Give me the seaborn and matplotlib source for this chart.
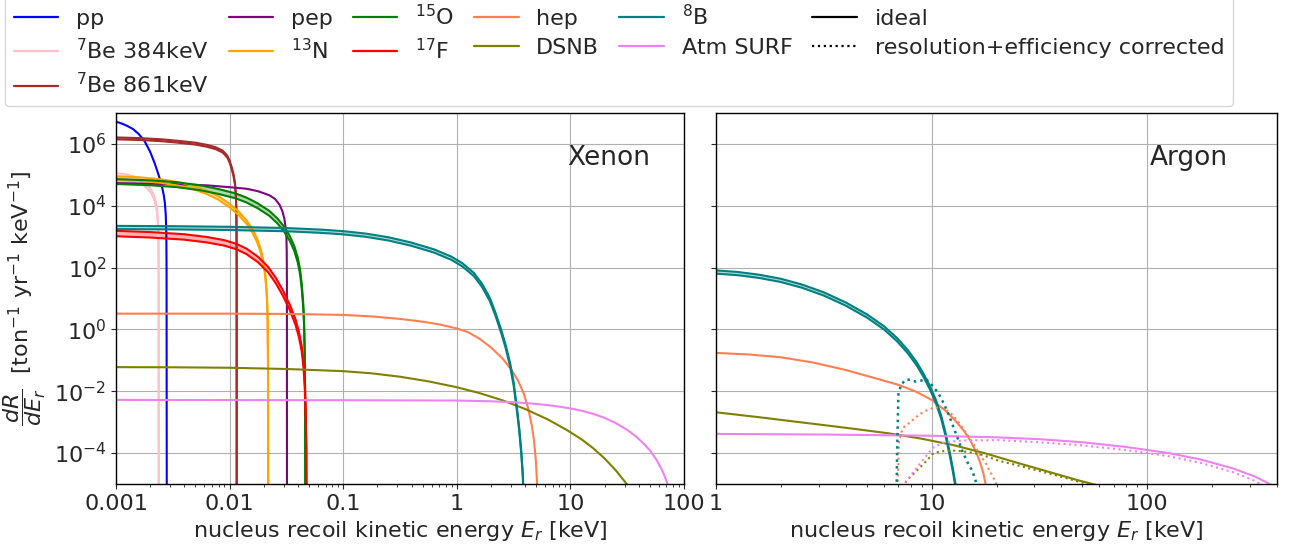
import numpy as np
import matplotlib
matplotlib.use("Agg")
import matplotlib.pyplot as plt
from matplotlib.lines import Line2D
from matplotlib.ticker import FixedLocator, FuncFormatter
import seaborn as sns

# All values are read off the log-log chart and stored as log10 values:
# logE = log10(recoil energy / keV), logR = log10(rate / ton^-1 yr^-1 keV^-1)

# ---------------- Xenon ----------------
xe_pp_logE = [-3.0, -2.95, -2.9, -2.85, -2.8, -2.75, -2.7, -2.66, -2.63, -2.6, -2.58, -2.57, -2.562, -2.557, -2.555, -2.553]
xe_pp_logR = [6.72, 6.66, 6.58, 6.48, 6.32, 6.10, 5.75, 5.38, 5.05, 4.70, 4.35, 4.10, 3.70, 3.10, 2.0, -6]

xe_be384_logE = [-3.0, -2.95, -2.9, -2.85, -2.8, -2.76, -2.72, -2.69, -2.665, -2.648, -2.637, -2.630, -2.626, -2.6245, -2.624]
xe_be384_logR = [5.0, 4.98, 4.95, 4.90, 4.82, 4.73, 4.61, 4.46, 4.28, 4.05, 3.8, 3.4, 2.8, 1.5, -6]

xe_be861_logE = [-3.0, -2.8, -2.6, -2.45, -2.3, -2.2, -2.12, -2.06, -2.02, -2.0, -1.98, -1.965, -1.953, -1.945, -1.941, -1.939, -1.9378, -1.9375]
xe_be861_logR = [6.18, 6.16, 6.12, 6.07, 6.01, 5.94, 5.86, 5.75, 5.59, 5.43, 5.20, 4.98, 4.72, 4.35, 3.9, 3.2, 2.0, -6]

xe_pep_logE = [-3.0, -2.5, -2.2, -2.0, -1.85, -1.75, -1.65, -1.6, -1.56, -1.535, -1.518, -1.507, -1.5, -1.497, -1.4955, -1.495]
xe_pep_logR = [4.73, 4.70, 4.66, 4.60, 4.55, 4.47, 4.34, 4.22, 4.03, 3.82, 3.58, 3.30, 3.0, 2.5, 1.5, -6]

xe_n13_logE = [-3.0, -2.8, -2.6, -2.45, -2.3, -2.2, -2.1, -2.0, -1.92, -1.85, -1.8, -1.76, -1.73, -1.71, -1.69, -1.678, -1.67, -1.665, -1.662, -1.66]
xe_n13_logR = [4.90, 4.87, 4.80, 4.71, 4.57, 4.44, 4.26, 4.01, 3.76, 3.47, 3.20, 2.90, 2.60, 2.30, 1.88, 1.45, 0.95, 0.3, -1.0, -6]

xe_o15_logE = [-3.0, -2.7, -2.47, -2.26, -2.1, -1.95, -1.85, -1.75, -1.65, -1.58, -1.52, -1.47, -1.43, -1.40, -1.38, -1.365, -1.353, -1.345, -1.339, -1.335, -1.333]
xe_o15_logR = [4.79, 4.75, 4.69, 4.59, 4.47, 4.33, 4.19, 4.00, 3.76, 3.52, 3.25, 2.95, 2.62, 2.25, 1.88, 1.40, 0.85, 0.25, -0.7, -2.2, -6]

xe_f17_logE = [-3.0, -2.7, -2.4, -2.2, -2.05, -1.94, -1.85, -1.75, -1.66, -1.59, -1.53, -1.47, -1.42, -1.39, -1.365, -1.35, -1.338, -1.33, -1.325, -1.322]
xe_f17_logR = [3.11, 3.07, 3.00, 2.91, 2.81, 2.69, 2.53, 2.27, 1.94, 1.57, 1.18, 0.72, 0.25, -0.15, -0.62, -1.1, -1.8, -2.7, -3.8, -6]

xe_b8_logE = [-3.0, -2.5, -2.0, -1.5, -1.2, -1.0, -0.8, -0.6, -0.4, -0.2, -0.05, 0.05, 0.15, 0.22, 0.29, 0.34, 0.39, 0.43, 0.47, 0.50, 0.53, 0.55, 0.567, 0.58, 0.59, 0.596]
xe_b8_logR = [3.30, 3.29, 3.27, 3.23, 3.18, 3.13, 3.05, 2.93, 2.76, 2.54, 2.31, 2.09, 1.78, 1.44, 0.98, 0.50, -0.05, -0.55, -1.15, -1.75, -2.6, -3.25, -3.95, -4.65, -5.5, -7]

xe_hep_logE = [-3.0, -2.0, -1.5, -1.0, -0.75, -0.5, -0.3, -0.15, 0.0, 0.1, 0.2, 0.3, 0.4, 0.48, 0.54, 0.59, 0.63, 0.66, 0.68, 0.695, 0.705, 0.711, 0.716]
xe_hep_logR = [0.51, 0.51, 0.50, 0.47, 0.42, 0.34, 0.25, 0.16, 0.03, -0.09, -0.30, -0.58, -0.93, -1.30, -1.66, -2.08, -2.58, -3.10, -3.60, -4.2, -4.85, -5.5, -8]

xe_dsnb_logE = [-3.0, -2.5, -2.0, -1.5, -1.0, -0.75, -0.5, -0.25, 0.0, 0.2, 0.4, 0.6, 0.8, 0.967, 1.1, 1.2, 1.3, 1.4, 1.5, 1.56]
xe_dsnb_logR = [-1.22, -1.225, -1.24, -1.28, -1.35, -1.42, -1.53, -1.68, -1.87, -2.06, -2.29, -2.57, -2.91, -3.25, -3.56, -3.84, -4.17, -4.56, -5.02, -5.35]

xe_atm_logE = [-3.0, -1.0, 0.0, 0.3, 0.5, 0.7, 0.85, 1.0, 1.1, 1.2, 1.3, 1.4, 1.5, 1.58, 1.65, 1.71, 1.76, 1.8, 1.83, 1.855, 1.875]
xe_atm_logR = [-2.28, -2.29, -2.30, -2.325, -2.355, -2.41, -2.47, -2.555, -2.63, -2.73, -2.86, -3.03, -3.25, -3.47, -3.71, -3.96, -4.23, -4.5, -4.75, -5.0, -5.3]

# ---------------- Argon ----------------
ar_b8_logE = [0.0, 0.1, 0.2, 0.3, 0.4, 0.5, 0.6, 0.7, 0.78, 0.84, 0.89, 0.93, 0.96, 0.99, 1.02, 1.045, 1.065, 1.085, 1.1, 1.112, 1.12]
ar_b8_logR = [1.86, 1.81, 1.72, 1.59, 1.40, 1.15, 0.83, 0.44, 0.05, -0.33, -0.72, -1.10, -1.45, -1.85, -2.33, -2.85, -3.4, -4.05, -4.6, -5.1, -5.6]
ar_b8c_logE = [0.836, 0.84, 0.846, 0.859, 0.882, 0.9, 0.928, 0.95, 0.974, 1.005, 1.03, 1.051, 1.075, 1.097, 1.12, 1.143, 1.165, 1.19, 1.22]
ar_b8c_logR = [-6, -4, -2.1, -1.78, -1.62, -1.63, -1.69, -1.66, -1.60, -1.83, -2.05, -2.32, -2.68, -3.08, -3.5, -3.94, -4.28, -4.59, -5.24]

ar_hep_logE = [0.0, 0.15, 0.3, 0.45, 0.6, 0.75, 0.85, 0.93, 1.0, 1.06, 1.11, 1.15, 1.18, 1.205, 1.225, 1.24, 1.252, 1.26]
ar_hep_logR = [-0.76, -0.81, -0.90, -1.07, -1.31, -1.60, -1.80, -2.02, -2.28, -2.60, -2.95, -3.28, -3.60, -3.94, -4.3, -4.65, -5.05, -5.5]
ar_hepc_logE = [0.838, 0.849, 0.866, 0.897, 0.943, 0.97, 1.005, 1.035, 1.067, 1.1, 1.128, 1.16, 1.19, 1.22, 1.251, 1.298, 1.32]
ar_hepc_logR = [-6, -3.6, -3.19, -3.02, -2.75, -2.64, -2.54, -2.52, -2.6, -2.78, -3.03, -3.35, -3.67, -4.0, -4.33, -4.95, -5.5]

ar_dsnb_logE = [0.0, 0.2, 0.4, 0.6, 0.8, 0.95, 1.1, 1.25, 1.4, 1.55, 1.68, 1.78, 1.83]
ar_dsnb_logR = [-2.68, -2.84, -3.01, -3.18, -3.36, -3.53, -3.74, -4.01, -4.32, -4.62, -4.88, -5.06, -5.2]
ar_dsnbc_logE = [0.845, 0.86, 0.882, 0.928, 0.974, 1.005, 1.035, 1.067, 1.1, 1.143, 1.19, 1.236, 1.313, 1.4, 1.55, 1.68, 1.78, 1.82]
ar_dsnbc_logR = [-6, -5.3, -4.91, -4.59, -4.27, -4.03, -3.95, -3.93, -3.92, -3.94, -3.99, -4.06, -4.25, -4.40, -4.67, -4.92, -5.1, -5.22]

ar_atm_logE = [0.0, 0.5, 1.0, 1.3, 1.5, 1.7, 1.9, 2.1, 2.25, 2.4, 2.5, 2.56, 2.61]
ar_atm_logR = [-3.38, -3.40, -3.44, -3.49, -3.55, -3.65, -3.80, -4.00, -4.21, -4.50, -4.76, -4.97, -5.2]
ar_atmc_logE = [0.84, 0.86, 0.882, 0.943, 1.005, 1.051, 1.1, 1.159, 1.313, 1.5, 1.7, 1.9, 2.1, 2.25, 2.4, 2.5, 2.58]
ar_atmc_logR = [-6, -5.4, -4.91, -4.37, -3.83, -3.67, -3.62, -3.59, -3.58, -3.65, -3.75, -3.90, -4.10, -4.32, -4.62, -4.90, -5.2]

# fractional flux uncertainty (band half-width)
band_unc = {"be384": 0.14, "be861": 0.07, "n13": 0.13, "o15": 0.18, "f17": 0.20, "b8": 0.12}

labels = ["pp", r"$^{7}$Be 384keV", r"$^{7}$Be 861keV", "pep", r"$^{13}$N", r"$^{15}$O", r"$^{17}$F",
          "hep", "DSNB", r"$^{8}$B", "Atm SURF"]
colors = ["blue", "pink", "brown", "purple", "orange", "green", "red",
          "coral", "olive", "teal", "violet"]

sns.set_style("ticks")
plt.rcParams["font.family"] = ["DejaVu Sans"]
plt.rcParams["mathtext.fontset"] = "dejavusans"

fig = plt.figure(figsize=(12.92, 5.5), dpi=100)
W, H = 1292, 550
axL = fig.add_axes([116 / W, 1 - 484 / H, 568 / W, 371 / H])
axR = fig.add_axes([716 / W, 1 - 484 / H, 561 / W, 371 / H], sharey=axL)

for ax in (axL, axR):
    ax.set_xscale("log")
    ax.set_yscale("log")


def draw(ax, logx, logy, color, unc=None, ls="-", lw=1.5):
    x = 10.0 ** np.asarray(logx, float)
    y = 10.0 ** np.asarray(logy, float)
    if unc is None:
        sns.lineplot(x=x, y=y, ax=ax, color=color, lw=lw, linestyle=ls,
                     estimator=None, sort=False, legend=False)
    else:
        lo, hi = y * (1 - unc), y * (1 + unc)
        ax.fill_between(x, lo, hi, color=color, alpha=0.3, lw=0)
        for yy in (hi, lo):
            sns.lineplot(x=x, y=yy, ax=ax, color=color, lw=lw, linestyle=ls,
                         estimator=None, sort=False, legend=False)


# Xenon
draw(axL, xe_pp_logE, xe_pp_logR, "blue")
draw(axL, xe_be384_logE, xe_be384_logR, "pink", band_unc["be384"])
draw(axL, xe_be861_logE, xe_be861_logR, "brown", band_unc["be861"])
draw(axL, xe_pep_logE, xe_pep_logR, "purple")
draw(axL, xe_n13_logE, xe_n13_logR, "orange", band_unc["n13"])
draw(axL, xe_o15_logE, xe_o15_logR, "green", band_unc["o15"])
draw(axL, xe_f17_logE, xe_f17_logR, "red", band_unc["f17"])
draw(axL, xe_hep_logE, xe_hep_logR, "coral")
draw(axL, xe_dsnb_logE, xe_dsnb_logR, "olive")
draw(axL, xe_b8_logE, xe_b8_logR, "teal", band_unc["b8"])
draw(axL, xe_atm_logE, xe_atm_logR, "violet")

# Argon
draw(axR, ar_hep_logE, ar_hep_logR, "coral")
draw(axR, ar_dsnb_logE, ar_dsnb_logR, "olive")
draw(axR, ar_b8_logE, ar_b8_logR, "teal", band_unc["b8"])
draw(axR, ar_atm_logE, ar_atm_logR, "violet")
draw(axR, ar_hepc_logE, ar_hepc_logR, "coral", ls=":")
draw(axR, ar_dsnbc_logE, ar_dsnbc_logR, "olive", ls=":")
draw(axR, ar_atmc_logE, ar_atmc_logR, "violet", ls=":")
draw(axR, ar_b8c_logE, ar_b8c_logR, "teal", ls=":", lw=1.8)

fmt = FuncFormatter(lambda v, p: f"{v:g}")
axL.set_xlim(1e-3, 100)
axL.xaxis.set_major_locator(FixedLocator([1e-3, 1e-2, 1e-1, 1, 10, 100]))
axL.xaxis.set_major_formatter(fmt)
axR.set_xlim(1, 400)
axR.xaxis.set_major_locator(FixedLocator([1, 10, 100]))
axR.xaxis.set_major_formatter(fmt)
axL.set_ylim(1e-5, 1e7)
axL.yaxis.set_major_locator(FixedLocator([1e-4, 1e-2, 1, 1e2, 1e4, 1e6]))
plt.setp(axR.get_yticklabels(), visible=False)

for ax in (axL, axR):
    ax.grid(True, which="major", color="#b0b0b0", lw=0.8)
    ax.tick_params(labelsize=16)
    ax.set_xlabel(r"nucleus recoil kinetic energy $E_r$ [keV]", fontsize=16)
    for s in ax.spines.values():
        s.set_color("black")
        s.set_linewidth(1.0)

axL.set_ylabel(r"$\dfrac{dR}{dE_r}$  [ton$^{-1}$ yr$^{-1}$ keV$^{-1}$]", fontsize=16, labelpad=4)
axL.text(0.94, 0.88, "Xenon", transform=axL.transAxes, ha="right", va="center", fontsize=19)
axR.text(0.913, 0.88, "Argon", transform=axR.transAxes, ha="right", va="center", fontsize=19)

handles = [Line2D([], [], color=c, lw=1.6) for c in colors]
handles += [Line2D([], [], color="black", lw=1.6, ls="-"),
            Line2D([], [], color="black", lw=1.6, ls=":")]
leg_labels = labels + ["ideal", "resolution+efficiency corrected"]
fig.legend(handles, leg_labels, ncol=6, loc="upper left", bbox_to_anchor=(5 / W, 1.009),
           borderaxespad=0, fontsize=16, frameon=True, columnspacing=0.9,
           labelspacing=0.4, handlelength=2.0, handletextpad=0.8)

fig.savefig("out.png", dpi=100)
